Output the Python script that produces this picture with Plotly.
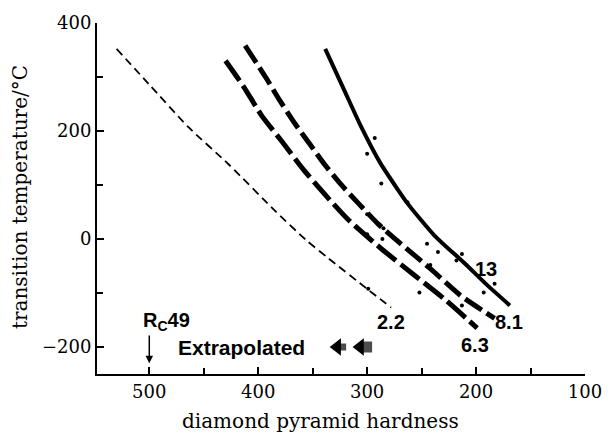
import plotly.graph_objects as go

# ---- data ----
hard_22 = [530, 500, 464, 427, 384, 356, 336, 299, 278]
temp_22 = [352, 286, 207, 138, 51, -2, -35, -94, -127]

hard_63 = [430, 413, 397, 378, 359, 339, 318, 287, 256, 228, 199]
temp_63 = [330, 281, 229, 180, 130, 83, 37, -18, -68, -113, -165]

hard_81 = [412, 393, 381, 366, 352, 339, 324, 308, 290, 269, 242, 214, 183]
temp_81 = [358, 299, 259, 213, 174, 138, 101, 66, 28, -9, -55, -105, -147]

hard_13 = [338.5, 322, 306, 288, 272, 263, 238, 211, 190, 169]
temp_13 = [352, 280, 210, 141, 92, 66, 6, -44, -85, -123]

dot_hard = [293, 300, 287, 263, 300, 285, 300, 286, 245, 235, 213, 218, 242, 183, 193, 252, 213, 299]
dot_temp = [187, 158, 103, 68, 46, 20, 9, 0, -9, -24, -28, -40, -48, -83, -99, -99, -123, -92]

curve_labels = ["13", "8.1", "6.3", "2.2"]
label_hard = [191, 170, 201, 278]
label_temp = [-55, -154, -196, -154]

extrap_head_hard = [327.5, 306.5]
extrap_tail_hard = [322.5, 300.5]
extrap_temp = [-200, -200]

rc_hard = 500
rc_text_temp = -152
rc_arrow_top = -176
rc_arrow_tip = -230

x_ticks = [500, 400, 300, 200, 100]
y_ticks = [-200, 0, 200, 400]

SERIF = "DejaVu Serif"
SANS = "Liberation Sans"

fig = go.Figure()

fig.add_trace(go.Scatter(x=hard_22, y=temp_22, mode="lines",
                         line=dict(color="black", width=1.8, dash="8px,5px", shape="spline", smoothing=0.6),
                         showlegend=False, hoverinfo="skip"))
fig.add_trace(go.Scatter(x=hard_63, y=temp_63, mode="lines",
                         line=dict(color="black", width=5, dash="24px,6px", shape="spline", smoothing=0.6),
                         showlegend=False, hoverinfo="skip"))
fig.add_trace(go.Scatter(x=hard_81, y=temp_81, mode="lines",
                         line=dict(color="black", width=5, dash="20px,6px", shape="spline", smoothing=0.6),
                         showlegend=False, hoverinfo="skip"))
fig.add_trace(go.Scatter(x=hard_13, y=temp_13, mode="lines",
                         line=dict(color="black", width=4, shape="spline", smoothing=0.6),
                         showlegend=False, hoverinfo="skip"))
fig.add_trace(go.Scatter(x=dot_hard, y=dot_temp, mode="markers",
                         marker=dict(color="black", size=4),
                         showlegend=False, hoverinfo="skip"))
# extrapolation arrow marks
fig.add_trace(go.Scatter(x=extrap_tail_hard, y=extrap_temp, mode="markers",
                         marker=dict(color="black", size=[7, 11], symbol="square", line=dict(width=0)),
                         showlegend=False, hoverinfo="skip"))
fig.add_trace(go.Scatter(x=extrap_head_hard, y=extrap_temp, mode="markers",
                         marker=dict(color="black", size=15, symbol="triangle-left", line=dict(width=0)),
                         showlegend=False, hoverinfo="skip"))

annotations = []
for t, hx, ty in zip(curve_labels, label_hard, label_temp):
    annotations.append(dict(x=hx, y=ty, xref="x", yref="y", text="<b>" + t + "</b>",
                            showarrow=False, font=dict(family=SANS, size=20, color="black")))
annotations.append(dict(x=415, y=-200, xref="x", yref="y", text="<b>Extrapolated</b>",
                        showarrow=False, font=dict(family=SANS, size=21, color="black")))
annotations.append(dict(x=484, y=rc_text_temp, xref="x", yref="y", text="<b>R<sub>C</sub>49</b>",
                        showarrow=False, font=dict(family=SANS, size=20, color="black")))
annotations.append(dict(x=rc_hard, y=rc_arrow_tip, xref="x", yref="y", ax=rc_hard, ay=rc_arrow_top,
                        axref="x", ayref="y", text="", showarrow=True, arrowhead=2, arrowsize=1,
                        arrowwidth=1.5, arrowcolor="black"))
annotations.append(dict(x=0.459, y=-0.133, xref="paper", yref="paper", xanchor="center", yanchor="middle",
                        text="diamond pyramid hardness",
                        showarrow=False, font=dict(family=SERIF, size=20, color="black")))
annotations.append(dict(x=-0.1565, y=0.503, xref="paper", yref="paper", xanchor="center", yanchor="middle",
                        text="transition temperature/°C",
                        textangle=-90, showarrow=False, font=dict(family=SERIF, size=20, color="black")))

fig.update_layout(
    width=614, height=435,
    margin=dict(l=97, r=25, t=20, b=61),
    paper_bgcolor="white", plot_bgcolor="white",
    annotations=annotations,
    xaxis=dict(range=[548, 100], tickmode="array", tickvals=x_ticks, ticks="inside", ticklen=7,
               tickwidth=1.5, tickcolor="black", showline=True, linewidth=2, linecolor="black",
               showgrid=False, zeroline=False, tickfont=dict(family=SERIF, size=18, color="black"),
               minor=dict(ticks="inside", ticklen=6, tickwidth=1.5, tickcolor="black",
                          tickvals=[450, 350, 250, 150], showgrid=False)),
    yaxis=dict(range=[-250, 400], tickmode="array", tickvals=y_ticks, ticks="inside", ticklen=7,
               tickwidth=1.5, tickcolor="black", showline=True, linewidth=2, linecolor="black",
               showgrid=False, zeroline=False, tickfont=dict(family=SERIF, size=18, color="black"),
               minor=dict(ticks="inside", ticklen=6, tickwidth=1.5, tickcolor="black",
                          tickvals=[300, 100, -100], showgrid=False)),
)

fig.write_html("out.html")
